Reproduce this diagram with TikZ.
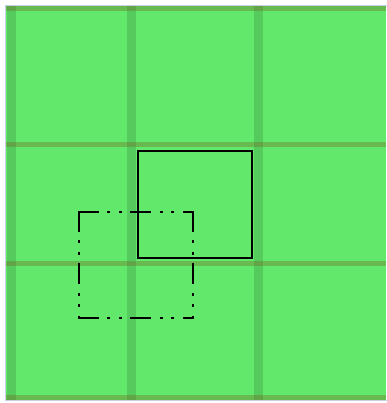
\documentclass[tikz,border=0pt]{standalone}
\usepackage{xcolor}
\usepackage{tikz}
\definecolor{cesped}{RGB}{98,232,106}
\definecolor{surco}{RGB}{120,80,20}
\definecolor{borde}{RGB}{200,208,228}

\begin{document}
\begin{tikzpicture}[x=1pt, y=-1pt]
  \def\ancho{9}
  \useasboundingbox (0,0) rectangle (386,403);
  \draw[borde, line width=1pt] (5,5.5) rectangle (390,400.5);
  \fill[cesped] (6,6) rectangle (386,400);
  \foreach \x in {11.5,131,258} \fill[black, opacity=0.12] (\x-\ancho/2,6) rectangle (\x+\ancho/2,400);
  \foreach \y in {8.5,144.5,263.5,397.5} \fill[surco, opacity=0.3] (6,\y-2.5) rectangle (386,\y+2.5);
  % cuadro fijo
  \draw[line width=1.3pt] (138,151) rectangle (252,258);
  % cuadro desplazado, cada lado por separado
  \coordinate (a) at (79,212); \coordinate (b) at (193,212);
  \coordinate (c) at (193,318); \coordinate (d) at (79,318);
  \tikzset{rayapunto/.style={line width=2.8pt, line cap=rect, dash pattern=on 18.2pt off 11.3pt on 0.2pt off 11.3pt on 0.2pt off 11.3pt}}
  \draw[rayapunto] (a) -- (b);
  \draw[rayapunto] (d) -- (c);
  \draw[rayapunto] (a) -- (d);
  \draw[rayapunto] (b) -- (c);
\end{tikzpicture}
\end{document}
